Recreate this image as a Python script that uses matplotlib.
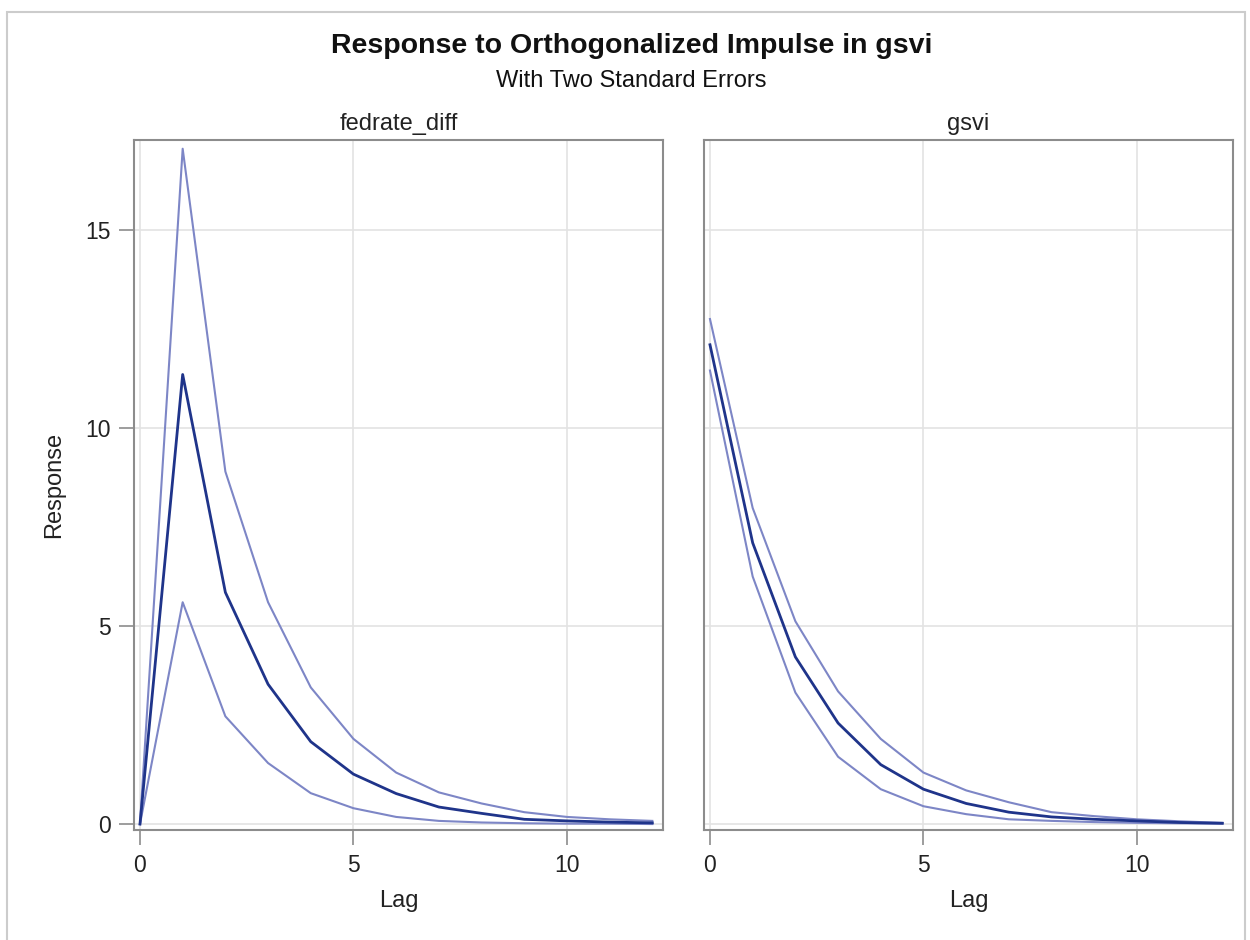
import matplotlib
matplotlib.use('Agg')
import matplotlib.pyplot as plt
from matplotlib.patches import Rectangle

plt.rcParams['font.family'] = ['Liberation Sans', 'DejaVu Sans']

lags = list(range(13))

# fedrate_diff panel
fed_resp = [0, 11.35, 5.85, 3.53, 2.08, 1.26, 0.77, 0.43, 0.27, 0.12, 0.08, 0.05, 0.03]
fed_upper = [0, 17.05, 8.9, 5.6, 3.45, 2.15, 1.3, 0.8, 0.52, 0.3, 0.18, 0.12, 0.08]
fed_lower = [0, 5.6, 2.72, 1.54, 0.78, 0.4, 0.18, 0.08, 0.04, 0.02, 0.01, 0.01, 0.0]

# gsvi panel
gsvi_resp = [12.1, 7.1, 4.22, 2.55, 1.5, 0.88, 0.52, 0.3, 0.18, 0.12, 0.08, 0.04, 0.02]
gsvi_upper = [12.75, 7.98, 5.12, 3.35, 2.15, 1.3, 0.85, 0.55, 0.3, 0.2, 0.12, 0.07, 0.03]
gsvi_lower = [11.45, 6.25, 3.32, 1.7, 0.88, 0.45, 0.25, 0.12, 0.08, 0.05, 0.03, 0.02, 0.01]

panels = [('fedrate_diff', fed_resp, fed_upper, fed_lower),
          ('gsvi', gsvi_resp, gsvi_upper, gsvi_lower)]

fig = plt.figure(figsize=(12.5, 9.4), dpi=100)

# outer frame of the graph
fig.patches.append(Rectangle((7 / 1250, -0.01), 1238 / 1250, 0.997, transform=fig.transFigure,
                             fill=False, edgecolor='#cccccc', linewidth=1.5))

left_edges = [134 / 1250, 704 / 1250]
w = 529 / 1250
bottom = 1 - 830 / 940
h = 690 / 940

frame_col = '#8c8c8c'
for i, (name, resp, upper, lower) in enumerate(panels):
    ax = fig.add_axes([left_edges[i], bottom, w, h])
    ax.plot(lags, upper, color='#7d86c6', linewidth=1.5)
    ax.plot(lags, lower, color='#7d86c6', linewidth=1.5)
    ax.plot(lags, resp, color='#1f348a', linewidth=2.0)
    ax.set_xlim(-0.14, 12.25)
    ax.set_ylim(-0.15, 17.27)
    ax.set_xticks([0, 5, 10])
    ax.set_yticks([0, 5, 10, 15])
    ax.grid(True, color='#e3e3e3', linewidth=1.2)
    ax.set_axisbelow(True)
    for s in ax.spines.values():
        s.set_color(frame_col)
        s.set_linewidth(1.5)
    ax.tick_params(direction='out', length=11, width=1.2, color=frame_col,
                   labelsize=16.5, pad=6, labelcolor='#222222')
    ax.set_xlabel('Lag', fontsize=17, color='#222222', labelpad=10)
    ax.set_title(name, fontsize=17, color='#222222', pad=7)
    if i == 0:
        ax.set_ylabel('Response', fontsize=17, color='#222222', labelpad=14)
    else:
        ax.tick_params(axis='y', left=False, labelleft=False)

fig.text(0.505, 1 - 46 / 940, 'Response to Orthogonalized Impulse in gsvi',
         ha='center', va='center', fontsize=20.5, fontweight='bold', color='#111111')
fig.text(0.505, 1 - 81 / 940, 'With Two Standard Errors',
         ha='center', va='center', fontsize=17, color='#111111')

plt.savefig('out.png', dpi=100)
